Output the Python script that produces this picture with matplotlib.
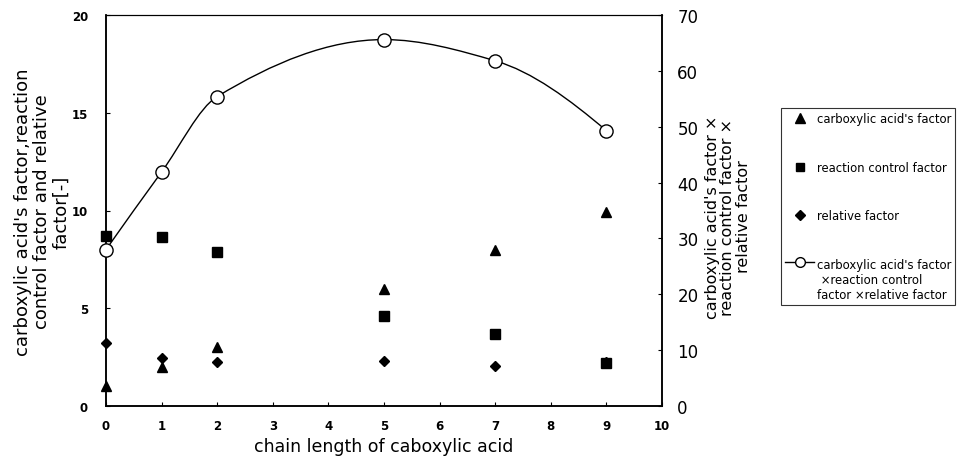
import matplotlib
matplotlib.use('Agg')
import matplotlib.pyplot as plt
from matplotlib.path import Path
from matplotlib.patches import PathPatch
from matplotlib.lines import Line2D
import numpy as np

# ---- data ----
chain_length = [0, 1, 2, 5, 7, 9]
acid_factor = [1.0, 2.0, 3.0, 6.0, 8.0, 9.9]
reaction_factor = [8.7, 8.65, 7.9, 4.6, 3.66, 2.18]
relative_factor = [3.2, 2.45, 2.27, 2.3, 2.07, 2.25]
product_factor = [28.0, 41.9, 55.4, 65.6, 61.8, 49.3]

x_ticks = list(range(0, 11))
left_ticks = [0, 5, 10, 15, 20]
right_ticks = [0, 10, 20, 30, 40, 50, 60, 70]

legend_labels = ["carboxylic acid's factor",
                 "reaction control factor",
                 "relative factor",
                 "carboxylic acid's factor\n ×reaction control\nfactor ×relative factor"]

plt.rcParams['font.family'] = ['DejaVu Sans']

fig = plt.figure(figsize=(9.57, 4.64), dpi=100)
ax = fig.add_axes([106/957, 1-407/464, (662-106)/957, (407-16)/464])
ax2 = ax.twinx()

ax.set_xlim(0, 10)
ax.set_ylim(0, 20)
ax2.set_ylim(0, 70)

# scatter series on left axis
ax.plot(chain_length, acid_factor, linestyle='none', marker='^', color='black',
        markersize=7.5, clip_on=False, zorder=3)
ax.plot(chain_length, reaction_factor, linestyle='none', marker='s', color='black',
        markersize=7, clip_on=False, zorder=3)
ax.plot(chain_length, relative_factor, linestyle='none', marker='D', color='black',
        markersize=5.5, clip_on=False, zorder=3)

# smoothed line through the data (shape-preserving Hermite -> cubic Bezier)
xs = np.asarray(chain_length, dtype=float)
ys = np.asarray(product_factor, dtype=float)
h = np.diff(xs)
d = np.diff(ys) / h
m = np.zeros_like(ys)
for k in range(1, len(xs) - 1):
    if d[k - 1] * d[k] <= 0:
        m[k] = 0.0
    else:
        w1 = 2 * h[k] + h[k - 1]
        w2 = h[k] + 2 * h[k - 1]
        m[k] = (w1 + w2) / (w1 / d[k - 1] + w2 / d[k])
m[0] = ((2 * h[0] + h[1]) * d[0] - h[0] * d[1]) / (h[0] + h[1])
if np.sign(m[0]) != np.sign(d[0]):
    m[0] = 0.0
m[-1] = ((2 * h[-1] + h[-2]) * d[-1] - h[-1] * d[-2]) / (h[-1] + h[-2])
if np.sign(m[-1]) != np.sign(d[-1]):
    m[-1] = 0.0
verts = [(xs[0], ys[0])]
codes = [Path.MOVETO]
for k in range(len(xs) - 1):
    dx = h[k] / 3.0
    verts += [(xs[k] + dx, ys[k] + m[k] * dx),
              (xs[k + 1] - dx, ys[k + 1] - m[k + 1] * dx),
              (xs[k + 1], ys[k + 1])]
    codes += [Path.CURVE4] * 3
ax2.add_patch(PathPatch(Path(verts, codes), facecolor='none', edgecolor='black',
                        lw=1.0, zorder=2))
ax2.plot(chain_length, product_factor, linestyle='none', marker='o', markersize=9.5,
         markerfacecolor='white', markeredgecolor='black', markeredgewidth=1.0,
         clip_on=False, zorder=4)

# ticks
ax.set_xticks(x_ticks)
ax.set_yticks(left_ticks)
ax2.set_yticks(right_ticks)
ax.tick_params(axis='x', direction='in', length=3, width=0.8, pad=9, labelsize=8.5)
ax.tick_params(axis='y', direction='in', length=3, width=0.8, pad=13, labelsize=8.5)
ax2.tick_params(axis='y', direction='in', length=3, width=0.8, pad=11, labelsize=12)
for lab in ax.get_xticklabels() + ax.get_yticklabels():
    lab.set_fontweight('bold')

for sp in ['left', 'right', 'bottom']:
    ax.spines[sp].set_linewidth(1.1)
    ax2.spines[sp].set_linewidth(1.1)
ax.spines['top'].set_linewidth(0.8)
ax2.spines['top'].set_linewidth(0.8)

# labels
fig.text(384/957, 1-447/464, 'chain length of caboxylic acid',
         ha='center', va='center', fontsize=12.5)
fig.text(42/957, 1-212/464,
         "carboxylic acid's factor,reaction\ncontrol factor and relative\nfactor[-]",
         rotation=90, ha='center', va='center', fontsize=13, linespacing=1.1)
fig.text(728/957, 1-217/464,
         "carboxylic acid's factor ×\nreaction control factor ×\nrelative factor",
         rotation=90, ha='center', va='center', fontsize=11.5, linespacing=1.0)

# legend
handles = [
    Line2D([], [], linestyle='none', marker='^', color='black', markersize=6.5),
    Line2D([], [], linestyle='none', marker='s', color='black', markersize=6),
    Line2D([], [], linestyle='none', marker='D', color='black', markersize=5),
    Line2D([], [], linestyle='-', color='black', lw=1.0, marker='o', markersize=7,
           markerfacecolor='white', markeredgecolor='black'),
]
leg = fig.legend(handles, legend_labels, loc='upper left',
                 bbox_to_anchor=(781/957, 1-109/464), bbox_transform=fig.transFigure,
                 fontsize=8.4, frameon=True, fancybox=False, borderaxespad=0,
                 labelspacing=3.05, handlelength=2.5, handletextpad=0.2,
                 borderpad=0.35)
leg.get_frame().set_edgecolor('black')
leg.get_frame().set_linewidth(0.8)
# align the line handle of the multi-line entry with its first text line
try:
    rows = leg._legend_handle_box.get_children()[0].get_children()
    rows[-1].align = 'top'
except Exception:
    pass

fig.savefig('out.png', dpi=100)
